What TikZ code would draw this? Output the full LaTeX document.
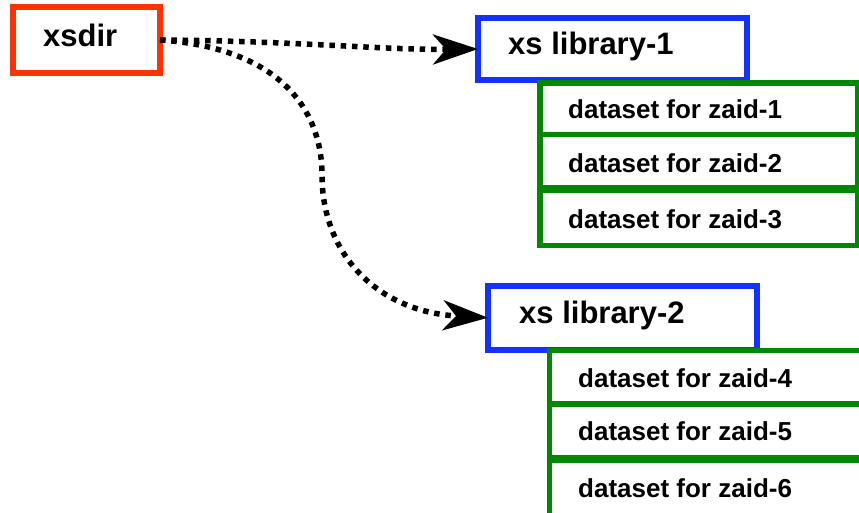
\documentclass[tikz,border=0pt]{standalone}
\usepackage{fontspec}
\setmainfont{Liberation Sans}
\usetikzlibrary{arrows.meta}
\definecolor{boxred}{RGB}{255,51,0}
\definecolor{boxblue}{RGB}{20,50,255}
\definecolor{boxgreen}{RGB}{0,136,0}
\begin{document}
\begin{tikzpicture}[x=1pt,y=-1pt,
  box/.style={draw,outer sep=0pt,inner sep=0pt,anchor=north west},
  redbox/.style={box,draw=boxred,line width=6pt},
  bluebox/.style={box,draw=boxblue,line width=6pt},
  greenbox/.style={box,draw=boxgreen,line width=5.5pt,minimum width=318pt},
  bigtext/.style={anchor=base west,inner sep=0pt,font=\bfseries\fontsize{31}{31}\selectfont},
  smalltext/.style={anchor=base west,inner sep=0pt,font=\bfseries\fontsize{26}{26}\selectfont},
  conn/.style={line width=5.5pt,dash pattern=on 5.5pt off 5.8pt,
    -{Stealth[length=45pt,width=30pt,inset=13pt]}}]
\useasboundingbox (0,0) rectangle (859,512);
% boxes
\node[redbox,minimum width=147pt,minimum height=66pt] (xsdir) at (13,7) {};
\node[bluebox,minimum width=269pt,minimum height=62pt] (lib1) at (478,18) {};
\node[bluebox,minimum width=269pt,minimum height=64.5pt] (lib2) at (488,285.5) {};
\node[greenbox,minimum height=51.5pt] (g1a) at (540,83) {};
\node[greenbox,minimum height=53pt] (g1b) at (540,134.5) {};
\node[greenbox,minimum height=55pt] (g1c) at (540,190.5) {};
\node[greenbox,minimum height=53.5pt] (g2a) at (549.5,350.5) {};
\node[greenbox,minimum height=53.5pt] (g2b) at (549.5,404) {};
\node[greenbox,minimum height=55pt] (g2c) at (549.5,460.5) {};
% texts
\node[bigtext] (txsdir) at (43,46) {xsdir};
\node[bigtext] (tlib1) at (508,54) {xs library-1};
\node[bigtext] (tlib2) at (519,323) {xs library-2};
\node[smalltext] (t1) at (568,118) {dataset for zaid-1};
\node[smalltext] (t2) at (568,172) {dataset for zaid-2};
\node[smalltext] (t3) at (568,228) {dataset for zaid-3};
\node[smalltext] (t4) at (578,387) {dataset for zaid-4};
\node[smalltext] (t5) at (578,440) {dataset for zaid-5};
\node[smalltext] (t6) at (578,497) {dataset for zaid-6};
% connectors
\coordinate (bend) at (322,175);
\draw[conn] (xsdir.east) .. controls +(140,1) and +(-98,1) .. (lib1.west);
\draw[conn] (xsdir.east) .. controls +(120,8) and +(0,-65) .. (bend)
  .. controls +(0,80) and +(-110,-6) .. (lib2.west);
\end{tikzpicture}
\end{document}
